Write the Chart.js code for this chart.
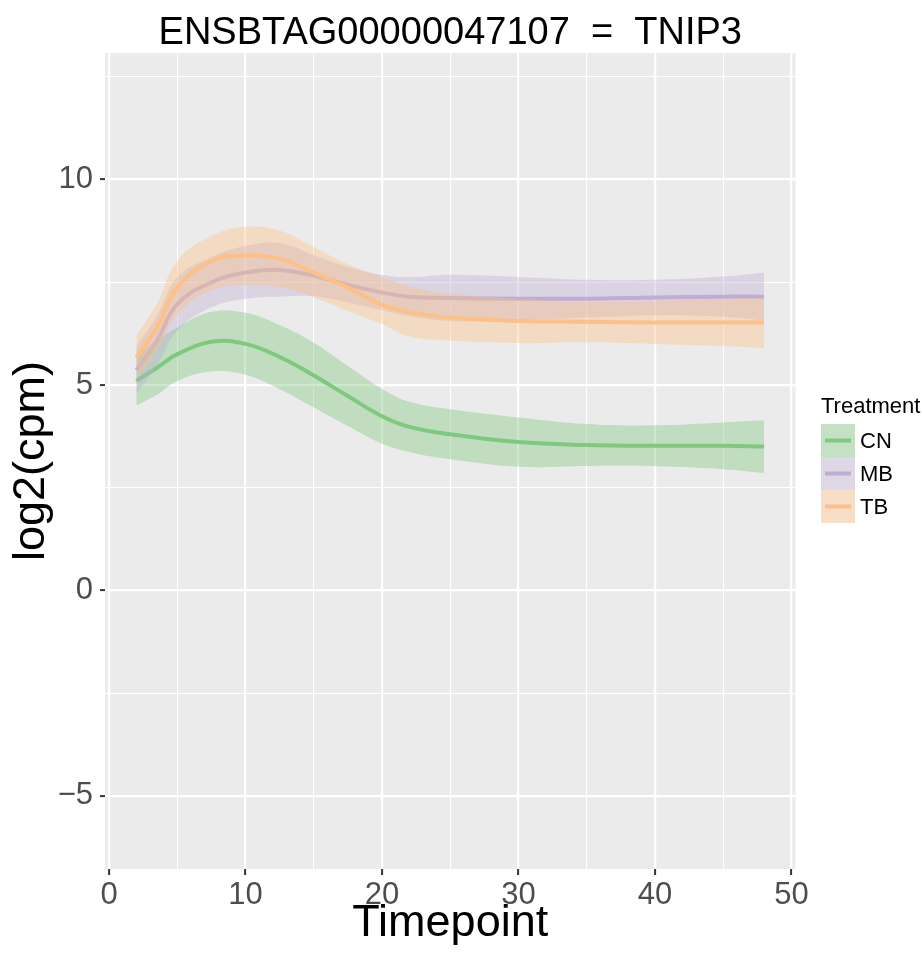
<!DOCTYPE html>
<html>
<head>
<meta charset="utf-8">
<script src="https://cdn.jsdelivr.net/npm/chart.js@4.4.1/dist/chart.umd.min.js"></script>
<style>
  html, body { margin: 0; padding: 0; background: #ffffff; }
  canvas { display: block; }
</style>
</head>
<body>
<canvas id="smoothChart" width="923" height="954"></canvas>
<script>

// values (loess fit + confidence band per treatment)
const timepoints = [2, 3.5, 5, 7.5, 10, 12.5, 15, 17.5, 20, 22, 25, 30, 35, 40, 45, 48];

const cnMean  = [5.10, 5.42, 5.75, 6.05, 6.00, 5.68, 5.23, 4.73, 4.24, 3.98, 3.80, 3.61, 3.54, 3.52, 3.52, 3.50];
const cnUpper = [5.70, 6.08, 6.40, 6.78, 6.76, 6.46, 6.03, 5.46, 4.91, 4.59, 4.41, 4.21, 4.05, 4.02, 4.09, 4.14];
const cnLower = [4.50, 4.76, 5.10, 5.33, 5.25, 4.90, 4.45, 4.00, 3.57, 3.37, 3.19, 3.01, 3.03, 3.02, 2.95, 2.86];

const mbMean  = [5.36, 6.07, 6.97, 7.50, 7.74, 7.80, 7.66, 7.44, 7.25, 7.15, 7.12, 7.10, 7.10, 7.13, 7.15, 7.15];
const mbUpper = [5.94, 6.67, 7.62, 8.11, 8.38, 8.45, 8.16, 7.87, 7.68, 7.62, 7.68, 7.63, 7.56, 7.56, 7.64, 7.73];
const mbLower = [4.78, 5.47, 6.32, 6.89, 7.10, 7.15, 7.16, 7.01, 6.82, 6.68, 6.56, 6.57, 6.64, 6.70, 6.66, 6.57];

const tbMean  = [5.67, 6.40, 7.37, 8.02, 8.15, 8.07, 7.74, 7.37, 6.95, 6.78, 6.64, 6.56, 6.54, 6.52, 6.52, 6.52];
const tbUpper = [6.20, 6.97, 8.02, 8.63, 8.85, 8.76, 8.35, 7.94, 7.62, 7.40, 7.22, 7.10, 7.02, 7.05, 7.10, 7.13];
const tbLower = [5.15, 5.83, 6.72, 7.31, 7.43, 7.38, 7.13, 6.80, 6.48, 6.18, 6.08, 6.02, 6.04, 6.00, 5.95, 5.90];

const treatments = ["CN", "MB", "TB"];
const lineColors = ["#7fc97f", "#beaed4", "#fdc086"];
const bandColors = ["rgba(127,201,127,0.4)", "rgba(190,174,212,0.4)", "rgba(253,192,134,0.4)"];

const xTicks = [0, 5, 10, 15, 20, 25, 30, 35, 40, 45, 50];
const yTicks = [-5, -2.5, 0, 2.5, 5, 7.5, 10, 12.5];

const chartTitle = "ENSBTAG00000047107  =  TNIP3";

const FONT = "'Liberation Sans', Arial, Helvetica, sans-serif";

function pts(ys){
    return timepoints.map((t, i) => ({x: t, y: ys[i]}));
}

const groups = [
    {mean: cnMean, upper: cnUpper, lower: cnLower},
    {mean: mbMean, upper: mbUpper, lower: mbLower},
    {mean: tbMean, upper: tbUpper, lower: tbLower}
];

// per group: invisible lower edge, upper edge filled down to it, then the fit line
const datasets = [];
groups.forEach((g, k) => {
    const base = datasets.length;
    const drawOrder = (groups.length - k) * 2;
    datasets.push({
        label: treatments[k] + " lower",
        data: pts(g.lower),
        borderWidth: 0,
        pointRadius: 0,
        fill: false,
        tension: 0.4,
        order: drawOrder
    });
    datasets.push({
        label: treatments[k] + " band",
        data: pts(g.upper),
        borderWidth: 0,
        pointRadius: 0,
        backgroundColor: bandColors[k],
        fill: base,
        tension: 0.4,
        order: drawOrder
    });
    datasets.push({
        label: treatments[k],
        data: pts(g.mean),
        borderColor: lineColors[k],
        borderWidth: 4,
        pointRadius: 0,
        fill: false,
        tension: 0.4,
        order: drawOrder - 1
    });
});

const panelBackground = {
    id: "panelBackground",
    beforeDraw(chart){
        const a = chart.chartArea;
        const ctx = chart.ctx;
        ctx.save();
        ctx.fillStyle = "#ebebeb";
        ctx.fillRect(a.left, a.top, a.right - a.left, a.bottom - a.top);
        ctx.restore();
    }
};

const titleAndLegend = {
    id: "titleAndLegend",
    afterDraw(chart){
        const ctx = chart.ctx;
        const a = chart.chartArea;
        ctx.save();

        ctx.fillStyle = "#000";
        ctx.font = "38px " + FONT;
        ctx.textAlign = "center";
        ctx.textBaseline = "alphabetic";
        ctx.fillText(chartTitle, (a.left + a.right) / 2, 44);

        ctx.textAlign = "left";
        ctx.font = "22px " + FONT;
        ctx.fillText("Treatment", 821, 413);

        const keyX = 821, keyY = 424, keyW = 34, keyH = 33;
        treatments.forEach((name, k) => {
            const y = keyY + k * keyH;
            ctx.fillStyle = "#f2f2f2";
            ctx.fillRect(keyX, y, keyW, keyH);
            ctx.fillStyle = bandColors[k];
            ctx.fillRect(keyX, y, keyW, keyH);
            ctx.strokeStyle = lineColors[k];
            ctx.lineWidth = 4;
            ctx.beginPath();
            ctx.moveTo(keyX + 4, y + keyH / 2);
            ctx.lineTo(keyX + keyW - 4, y + keyH / 2);
            ctx.stroke();
            ctx.fillStyle = "#000";
            ctx.textBaseline = "middle";
            ctx.fillText(name, 860, y + keyH / 2 + 1);
        });
        ctx.restore();
    }
};

function isMajor(v, step){
    return Math.abs(v / step - Math.round(v / step)) < 1e-6;
}

const ctx = document.getElementById("smoothChart").getContext("2d");

new Chart(ctx, {
    type: "line",
    data: {datasets: datasets},
    plugins: [panelBackground, titleAndLegend],
    options: {
        responsive: false,
        devicePixelRatio: 1,
        animation: false,
        layout: {padding: {top: 53, right: 127.5, left: 0, bottom: 0}},
        plugins: {
            legend: {display: false},
            tooltip: {enabled: false},
            title: {display: false}
        },
        scales: {
            x: {
                type: "linear",
                min: -0.3,
                max: 50.3,
                afterBuildTicks(scale){
                    scale.ticks = xTicks.map(v => ({value: v}));
                },
                afterFit(scale){
                    scale.height = 85;
                },
                ticks: {
                    autoSkip: false,
                    maxRotation: 0,
                    padding: 2,
                    color: "#4d4d4d",
                    font: {family: FONT, size: 31},
                    callback: v => isMajor(v, 10) ? String(v) : ""
                },
                grid: {
                    color: "#ffffff",
                    lineWidth: c => isMajor(c.tick.value, 10) ? 2.2 : 1.1,
                    tickLength: 6,
                    tickWidth: 2,
                    tickColor: c => isMajor(c.tick.value, 10) ? "#333333" : "rgba(0,0,0,0)"
                },
                border: {display: false},
                title: {
                    display: true,
                    text: "Timepoint",
                    color: "#000",
                    font: {family: FONT, size: 45},
                    padding: {top: 0, bottom: 3}
                }
            },
            y: {
                type: "linear",
                min: -6.78,
                max: 13.08,
                afterBuildTicks(scale){
                    scale.ticks = yTicks.map(v => ({value: v}));
                },
                afterFit(scale){
                    scale.width = 105;
                },
                ticks: {
                    autoSkip: false,
                    padding: 7,
                    color: "#4d4d4d",
                    font: {family: FONT, size: 31},
                    callback: v => isMajor(v, 5) ? (v < 0 ? "\u2212" + Math.abs(v) : String(v)) : ""
                },
                grid: {
                    color: "#ffffff",
                    lineWidth: c => isMajor(c.tick.value, 5) ? 2.2 : 1.1,
                    tickLength: 5,
                    tickWidth: 2,
                    tickColor: c => isMajor(c.tick.value, 5) ? "#333333" : "rgba(0,0,0,0)"
                },
                border: {display: false},
                title: {
                    display: true,
                    text: "log2(cpm)",
                    color: "#000",
                    font: {family: FONT, size: 45},
                    padding: {top: 5, bottom: 0}
                }
            }
        }
    }
});
</script>
</body>
</html>
